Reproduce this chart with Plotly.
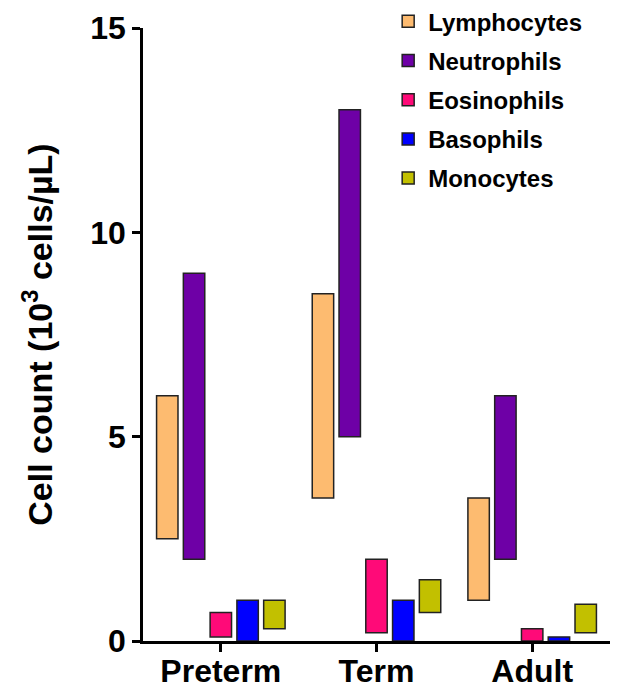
import plotly.graph_objects as go

groups = ["Preterm", "Term", "Adult"]
cell_types = ["Lymphocytes", "Neutrophils", "Eosinophils", "Basophils", "Monocytes"]
# ranges in 10^3 cells/uL (low, high) per group
lymph_low = [2.5, 3.5, 1.0]
lymph_high = [6.0, 8.5, 3.5]
neut_low = [2.0, 5.0, 2.0]
neut_high = [9.0, 13.0, 6.0]
eos_low = [0.1, 0.2, 0.0]
eos_high = [0.7, 2.0, 0.3]
baso_low = [0.0, 0.0, 0.0]
baso_high = [1.0, 1.0, 0.1]
mono_low = [0.3, 0.7, 0.2]
mono_high = [1.0, 1.5, 0.9]

lows = [lymph_low, neut_low, eos_low, baso_low, mono_low]
highs = [lymph_high, neut_high, eos_high, baso_high, mono_high]
colors = ["#FDBB70", "#6E00A6", "#FF0A78", "#0000FF", "#C2C000"]

font_family = "Liberation Sans, Arial, sans-serif"

fig = go.Figure()
for i, name in enumerate(cell_types):
    lo = lows[i]
    hi = highs[i]
    fig.add_trace(go.Bar(
        name=name,
        x=groups,
        y=[h - l for h, l in zip(hi, lo)],
        base=lo,
        marker=dict(color=colors[i], line=dict(color="#222222", width=1.5)),
        legendgroup=name,
    ))

# the page body adds an 8px offset, so the figure is 8px smaller
fig.update_layout(
    width=616, height=681,
    margin=dict(l=135, r=14, t=20, b=48, autoexpand=False),
    plot_bgcolor="white", paper_bgcolor="white",
    barmode="group", bargap=0.14, bargroupgap=0.2,
    font=dict(family=font_family, color="black"),
    legend=dict(
        x=0.525, y=1.047, xanchor="left", yanchor="top",
        font=dict(size=24, family=font_family, weight="bold"),
        tracegroupgap=5, traceorder="grouped",
        bgcolor="rgba(0,0,0,0)",
    ),
    xaxis=dict(
        showline=True, linecolor="black", linewidth=2.5,
        ticks="outside", ticklen=8, tickwidth=2.5, tickcolor="black",
        tickfont=dict(size=32, family=font_family, weight="bold"),
        ticklabelstandoff=-8,
        showgrid=False, zeroline=False, automargin=False,
    ),
    yaxis=dict(
        range=[0, 15], tickvals=[0, 5, 10, 15],
        showline=True, linecolor="black", linewidth=2.5,
        ticks="outside", ticklen=8, tickwidth=2.5, tickcolor="black",
        tickfont=dict(size=32, family=font_family, weight="bold"),
        showgrid=False, zeroline=False, automargin=False,
        title=dict(text="Cell count (10<sup>3</sup> cells/µL)",
                   font=dict(size=34, family=font_family, weight="bold"),
                   standoff=28),
    ),
)

fig.write_html("out.html")
